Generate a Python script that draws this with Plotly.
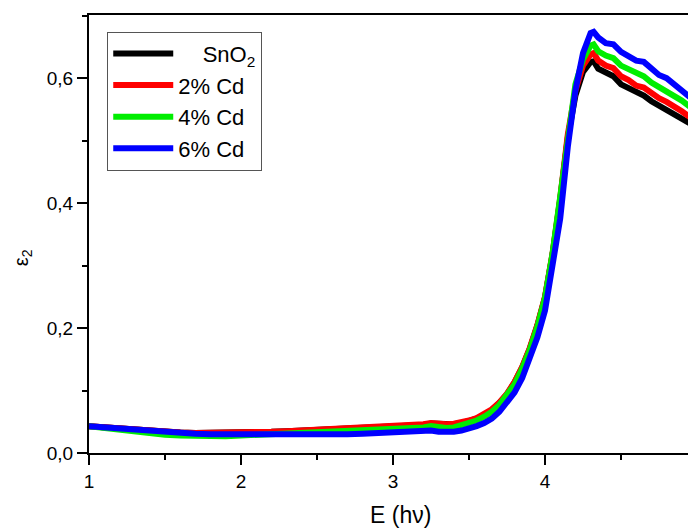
import plotly.graph_objects as go

energy = [1.0, 1.1, 1.2, 1.3, 1.4, 1.5, 1.6, 1.7, 1.8, 1.9, 2.0, 2.1, 2.2, 2.3, 2.4, 2.5,
          2.6, 2.7, 2.8, 2.9, 3.0, 3.1, 3.2, 3.25, 3.3, 3.35, 3.4, 3.45, 3.5, 3.55, 3.6,
          3.65, 3.7, 3.75, 3.8, 3.85, 3.9, 3.95, 4.0, 4.05, 4.1, 4.15, 4.2, 4.25, 4.3,
          4.32, 4.35, 4.4, 4.45, 4.5, 4.55, 4.6, 4.65, 4.7, 4.75, 4.8, 4.85, 4.9, 4.95, 5.0]

sno2 = [0.043, 0.041, 0.039, 0.037, 0.035, 0.034, 0.033, 0.032, 0.032, 0.032, 0.032, 0.033,
        0.034, 0.035, 0.036, 0.037, 0.038, 0.039, 0.040, 0.042, 0.042, 0.043, 0.045, 0.047,
        0.046, 0.045, 0.046, 0.048, 0.051, 0.055, 0.061, 0.069, 0.080, 0.094, 0.113, 0.137,
        0.167, 0.204, 0.249, 0.318, 0.405, 0.505, 0.572, 0.610, 0.626, 0.627, 0.615, 0.608,
        0.603, 0.590, 0.584, 0.576, 0.572, 0.563, 0.556, 0.551, 0.544, 0.537, 0.529, 0.521]

cd2 = [0.043, 0.041, 0.039, 0.037, 0.035, 0.034, 0.033, 0.032, 0.032, 0.032, 0.033, 0.033,
       0.034, 0.035, 0.036, 0.037, 0.038, 0.039, 0.041, 0.042, 0.043, 0.044, 0.046, 0.048,
       0.046, 0.046, 0.047, 0.049, 0.052, 0.056, 0.062, 0.070, 0.081, 0.095, 0.114, 0.138,
       0.168, 0.205, 0.250, 0.320, 0.408, 0.510, 0.580, 0.620, 0.638, 0.640, 0.628, 0.620,
       0.616, 0.603, 0.597, 0.588, 0.585, 0.575, 0.568, 0.562, 0.555, 0.547, 0.538, 0.530]

cd4 = [0.043, 0.040, 0.037, 0.034, 0.031, 0.029, 0.028, 0.027, 0.027, 0.027, 0.028, 0.029,
       0.030, 0.031, 0.032, 0.033, 0.034, 0.035, 0.036, 0.038, 0.038, 0.039, 0.041, 0.043,
       0.041, 0.040, 0.041, 0.044, 0.047, 0.052, 0.058, 0.066, 0.077, 0.092, 0.110, 0.135,
       0.165, 0.202, 0.248, 0.320, 0.410, 0.515, 0.590, 0.630, 0.652, 0.654, 0.643, 0.636,
       0.632, 0.620, 0.614, 0.607, 0.603, 0.593, 0.586, 0.580, 0.572, 0.564, 0.555, 0.546]

cd6 = [0.043, 0.041, 0.039, 0.037, 0.035, 0.034, 0.032, 0.031, 0.030, 0.030, 0.030, 0.029,
       0.029, 0.028, 0.029, 0.029, 0.030, 0.030, 0.031, 0.032, 0.032, 0.033, 0.035, 0.036,
       0.034, 0.033, 0.034, 0.036, 0.039, 0.043, 0.048, 0.055, 0.066, 0.080, 0.097, 0.120,
       0.150, 0.185, 0.228, 0.300, 0.375, 0.490, 0.580, 0.640, 0.672, 0.674, 0.665, 0.656,
       0.654, 0.642, 0.634, 0.628, 0.626, 0.614, 0.605, 0.600, 0.590, 0.582, 0.570, 0.560]

series_names = ["\u00a0\u00a0\u00a0\u00a0SnO<sub>2</sub>", "2% Cd", "4% Cd", "6% Cd"]
series_values = [sno2, cd2, cd4, cd6]
series_colors = ["#000000", "#ff0000", "#00ee00", "#0000ff"]

x_ticks = [1, 2, 3, 4, 5]
y_ticks = [0.0, 0.2, 0.4, 0.6]

FONT = "Liberation Sans, Arial, sans-serif"

fig = go.Figure()
for name, vals, col in zip(series_names, series_values, series_colors):
    fig.add_trace(go.Scatter(x=energy, y=vals, mode="lines", name=name,
                             line=dict(color=col, width=6)))

fig.update_layout(
    width=696, height=529,
    margin=dict(l=81, r=7, t=7, b=84),
    paper_bgcolor="white", plot_bgcolor="white",
    separators=",.",
    font=dict(family=FONT, color="black", size=18),
    showlegend=True,
    legend=dict(x=0.03, y=0.962, xanchor="left", yanchor="top",
                bordercolor="#555555", borderwidth=1, bgcolor="white",
                itemwidth=60,
                font=dict(size=22, family=FONT), tracegroupgap=0),
    xaxis=dict(range=[1, 5], tickvals=x_ticks, ticks="outside", ticklen=10, tickwidth=2,
               tickcolor="black", showline=True, linecolor="black", linewidth=2,
               mirror=True, showgrid=False, zeroline=False, automargin=False,
               tickfont=dict(size=19, family=FONT),
               minor=dict(dtick=0.5, ticks="outside", ticklen=5, tickwidth=2,
                          tickcolor="black", showgrid=False)),
    yaxis=dict(range=[0, 0.701], tickvals=y_ticks, tickformat=".1f", ticks="outside",
               ticklen=10, tickwidth=2, tickcolor="black", showline=True,
               linecolor="black", linewidth=2, showgrid=False, zeroline=False,
               automargin=False,
               tickfont=dict(size=19, family=FONT),
               minor=dict(dtick=0.1, ticks="outside", ticklen=5, tickwidth=2,
                          tickcolor="black", showgrid=False)),
    annotations=[
        dict(text="E (h\u03bd)", xref="paper", yref="paper", x=0.512, y=-0.142,
             showarrow=False, font=dict(size=23, family=FONT), xanchor="center",
             yanchor="middle"),
        dict(text="\u03b5<sub>2</sub>", xref="paper", yref="paper", x=-0.110, y=0.445,
             showarrow=False, textangle=-90, font=dict(size=20, family=FONT),
             xanchor="center", yanchor="middle"),
    ],
)

fig.write_html("out.html")
